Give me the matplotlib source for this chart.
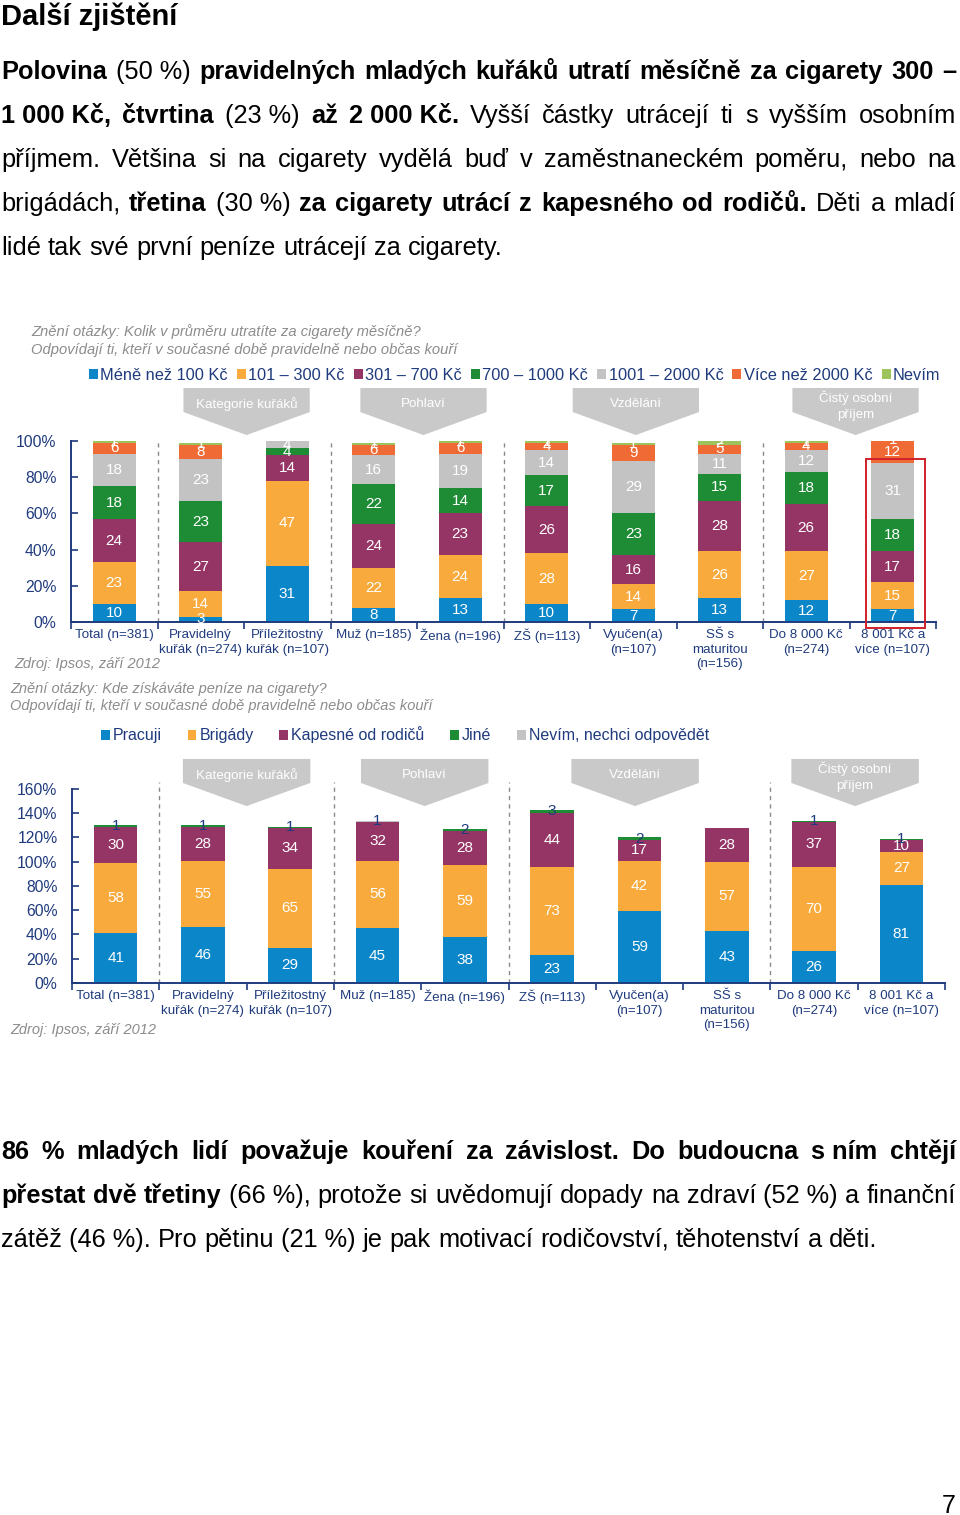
import numpy as np
import matplotlib
matplotlib.use('Agg')
import matplotlib.pyplot as plt
import matplotlib.transforms as mtransforms
from matplotlib.patches import Polygon, Rectangle

FONT = ['Liberation Sans', 'DejaVu Sans']
plt.rcParams['font.family'] = FONT

NAVY = '#1F3B7D'
GREY_TXT = '#8C8C8C'

kategorie = ['Total (n=381)', 'Pravidelný\nkuřák (n=274)', 'Příležitostný\nkuřák (n=107)',
             'Muž (n=185)', 'Žena (n=196)', 'ZŠ (n=113)', 'Vyučen(a)\n(n=107)',
             'SŠ s\nmaturitou\n(n=156)', 'Do 8 000 Kč\n(n=274)', '8 001 Kč a\nvíce (n=107)']

skupiny = ['Kategorie kuřáků', 'Pohlaví', 'Vzdělání', 'Čistý osobní\npříjem']
oddelovace = [0.5, 2.5, 4.5, 7.5]

# graf 1 - kolik utrati mesicne
serie1 = ['Méně než 100 Kč', '101 – 300 Kč', '301 – 700 Kč', '700 – 1000 Kč',
          '1001 – 2000 Kč', 'Více než 2000 Kč', 'Nevím']
mene_100 = [10, 3, 31, 8, 13, 10, 7, 13, 12, 7]
k101_300 = [23, 14, 47, 22, 24, 28, 14, 26, 27, 15]
k301_700 = [24, 27, 14, 24, 23, 26, 16, 28, 26, 17]
k700_1000 = [18, 23, 4, 22, 14, 17, 23, 15, 18, 18]
k1001_2000 = [18, 23, 4, 16, 19, 14, 29, 11, 12, 31]
vice_2000 = [6, 8, 0, 6, 6, 4, 9, 5, 4, 12]
nevim1 = [1, 1, 0, 1, 1, 1, 1, 2, 1, 1]
barvy1 = ['#0B86C8', '#F8AA3C', '#953565', '#1E8C35', '#C3C3C3', '#F06A35', '#9DC35C']

# graf 2 - odkud penize
serie2 = ['Pracuji', 'Brigády', 'Kapesné od rodičů', 'Jiné', 'Nevím, nechci odpovědět']
pracuji = [41, 46, 29, 45, 38, 23, 59, 43, 26, 81]
brigady = [58, 55, 65, 56, 59, 73, 42, 57, 70, 27]
kapesne = [30, 28, 34, 32, 28, 44, 17, 28, 37, 10]
jine = [1, 1, 1, 0, 2, 3, 2, 0, 1, 1]
nevim2 = [0, 0, 0, 1, 0, 0, 0, 0, 0, 0]
barvy2 = ['#0B86C8', '#F8AA3C', '#953565', '#1E8C35', '#C3C3C3']

odstavec1 = [
    '*Polovina* (50\u00a0%) *pravidelných mladých kuřáků utratí měsíčně za cigarety 300 –*',
    '*1\u00a0000\u00a0Kč, čtvrtina* (23\u00a0%) *až 2\u00a0000\u00a0Kč.* Vyšší částky utrácejí ti s vyšším osobním',
    'příjmem. Většina si na cigarety vydělá buď v zaměstnaneckém poměru, nebo na',
    'brigádách, *třetina* (30\u00a0%) *za cigarety utrácí z kapesného od rodičů.* Děti a mladí',
    'lidé tak své první peníze utrácejí za cigarety.',
]
odstavec2 = [
    '*86 % mladých lidí považuje kouření za závislost. Do budoucna s\u00a0ním chtějí*',
    '*přestat dvě třetiny* (66\u00a0%), protože si uvědomují dopady na zdraví (52\u00a0%) a finanční',
    'zátěž (46\u00a0%). Pro pětinu (21\u00a0%) je pak motivací rodičovství, těhotenství a děti.',
]

fig = plt.figure(figsize=(9.6, 15.15), dpi=100)
ov = fig.add_axes([0, 0, 1, 1])
ov.set_xlim(0, 960)
ov.set_ylim(1515, 0)
ov.axis('off')
renderer = fig.canvas.get_renderer()


def radek(markup, y, size=18.3, right=None, x0=1):
    # rozdeli radek na slova, *...* = tucne
    slova, cur, kus, tucne = [], [], '', False
    for ch in markup:
        if ch == '*':
            if kus:
                cur.append((kus, tucne))
                kus = ''
            tucne = not tucne
        elif ch == ' ':
            if kus:
                cur.append((kus, tucne))
                kus = ''
            if cur:
                slova.append(cur)
                cur = []
        else:
            kus += ch
    if kus:
        cur.append((kus, tucne))
    if cur:
        slova.append(cur)

    polozky, celkem = [], 0
    for slovo in slova:
        casti = []
        for t, b in slovo:
            tx = ov.text(0, y, t, fontsize=size, fontweight='bold' if b else 'normal',
                         va='baseline', ha='left', color='black')
            w = tx.get_window_extent(renderer).width
            casti.append((tx, w))
            celkem += w
        polozky.append(casti)
    if right is not None and len(polozky) > 1:
        mezera = (right - x0 - celkem) / (len(polozky) - 1)
    else:
        mezera = size * 1.389 * 0.278
    x = x0
    for casti in polozky:
        for tx, w in casti:
            tx.set_x(x)
            x += w
        x += mezera


ov.text(1, 25, 'Další zjištění', fontsize=21, fontweight='bold', va='baseline')
for i, r in enumerate(odstavec1):
    radek(r, 79 + 44 * i, right=956 if i < len(odstavec1) - 1 else None)
for i, r in enumerate(odstavec2):
    radek(r, 1159 + 44 * i, right=956 if i < len(odstavec2) - 1 else None)
ov.text(956, 1513, '7', fontsize=18, ha='right', va='baseline')

# popisky grafu
ov.text(31, 332, 'Znění otázky: Kolik v průměru utratíte za cigarety měsíčně?',
        fontsize=10.6, style='italic', color=GREY_TXT, va='center')
ov.text(31, 350, 'Odpovídají ti, kteří v současné době pravidelně nebo občas kouří',
        fontsize=10.6, style='italic', color=GREY_TXT, va='center')
ov.text(14, 664, 'Zdroj: Ipsos, září 2012', fontsize=10.5, style='italic', color=GREY_TXT, va='center')
ov.text(10, 689, 'Znění otázky: Kde získáváte peníze na cigarety?',
        fontsize=10.5, style='italic', color=GREY_TXT, va='center')
ov.text(10, 706, 'Odpovídají ti, kteří v současné době pravidelně nebo občas kouří',
        fontsize=10.5, style='italic', color=GREY_TXT, va='center')
ov.text(10, 1030, 'Zdroj: Ipsos, září 2012', fontsize=10.5, style='italic', color=GREY_TXT, va='center')


def graf(box, rady, barvy, nazvy, ymax, ystep, popis_barva, sipka_y, sipka_x, sep_top):
    ax = fig.add_axes(box)
    x = np.arange(len(kategorie))
    dole = np.zeros(len(kategorie))
    handles = []
    for j, (hod, c) in enumerate(zip(rady, barvy)):
        hod = np.array(hod, dtype=float)
        b = ax.bar(x, hod, 0.5, bottom=dole, color=c, label=nazvy[j], zorder=2)
        handles.append(b)
        for xi, h, d in zip(x, hod, dole):
            if h > 0:
                ax.text(xi, d + h / 2, f'{h:.0f}', ha='center', va='center',
                        fontsize=11, color=popis_barva[j], zorder=3)
        dole += hod
    ax.set_xlim(-0.5, len(kategorie) - 0.5)
    ax.set_ylim(0, ymax)
    ax.set_yticks(np.arange(0, ymax + 1, ystep))
    ax.set_yticklabels([f'{v}%' for v in np.arange(0, ymax + 1, ystep)])
    ax.set_xticks(np.arange(-0.5, len(kategorie)), [])
    ax.set_xticks(x, kategorie, minor=True)
    ax.tick_params(axis='y', direction='in', length=5, color=NAVY, labelcolor=NAVY,
                   labelsize=11.3, pad=10.5, width=1.2)
    ax.tick_params(axis='x', which='major', direction='out', length=5, color=NAVY, width=1.2)
    ax.tick_params(axis='x', which='minor', length=0, pad=5, labelsize=9.6, labelcolor=NAVY)
    plt.setp(ax.get_xticklabels(minor=True), linespacing=1.3)
    for s in ['top', 'right']:
        ax.spines[s].set_visible(False)
    for s in ['left', 'bottom']:
        ax.spines[s].set_color(NAVY)
        ax.spines[s].set_linewidth(1.4)
    for o in oddelovace:
        ax.plot([o, o], [0, sep_top], transform=ax.get_xaxis_transform(), ls=(0, (3, 3)),
                color='#8A8A8A', lw=1, clip_on=False, zorder=1)
    tr = mtransforms.blended_transform_factory(ax.transData, ax.transAxes)
    y_top, y_rect, y_tip = sipka_y
    px = 1.0 / (box[3] * 1515)  # jeden pixel v jednotkach osy
    for nazev, c in zip(skupiny, sipka_x):
        hw = 0.73
        ax.add_patch(Polygon([(c - hw, y_top), (c + hw, y_top), (c + hw, y_rect), (c, y_tip),
                              (c - hw, y_rect)], closed=True, transform=tr, color='#C9C9C9',
                             clip_on=False, lw=0))
        dva = '\n' in nazev
        ax.text(c, y_top - 3 * px if dva else (y_top + y_rect) / 2 - 4 * px, nazev, transform=tr,
                ha='center', va='top' if dva else 'center',
                fontsize=9.6, color='white', linespacing=1.4)
    return ax, handles


# graf 1: osa 71..936 px, 441..622 px
ax1, h1 = graf([71 / 960, 1 - 622 / 1515, 865 / 960, 181 / 1515],
               [mene_100, k101_300, k301_700, k700_1000, k1001_2000, vice_2000, nevim1],
               barvy1, serie1, 100, 20, ['white'] * 7,
               (1.293, 1.16, 1.033), [1.53, 3.575, 6.03, 8.57], 1.0)
ax1.add_patch(Rectangle((8.69, -3.5), 0.68, 93.5, fill=False, ec='#D0202A', lw=1.4,
                        clip_on=False, zorder=4))
fig.legend(handles=h1, loc='center left', bbox_to_anchor=(89 / 960, 1 - 375 / 1515),
           ncol=7, frameon=False, fontsize=11.8, handlelength=0.55, handleheight=0.55,
           handletextpad=0.15, columnspacing=0.55, labelcolor=NAVY, borderpad=0, borderaxespad=0)

# graf 2: osa 72..945 px, 789..983 px
ax2, h2 = graf([72 / 960, 1 - 983 / 1515, 873 / 960, 194 / 1515],
               [pracuji, brigady, kapesne, jine, nevim2],
               barvy2, serie2, 160, 20, ['white', 'white', 'white', NAVY, NAVY],
               (1.155, 1.031, 0.912), [1.5, 3.54, 5.95, 8.47], 1.036)
fig.legend(handles=h2, loc='center left', bbox_to_anchor=(101 / 960, 1 - 735 / 1515),
           ncol=5, frameon=False, fontsize=11.5, handlelength=0.55, handleheight=0.55,
           handletextpad=0.2, columnspacing=1.6, labelcolor=NAVY, borderpad=0, borderaxespad=0)

fig.savefig('out.png', dpi=100)
